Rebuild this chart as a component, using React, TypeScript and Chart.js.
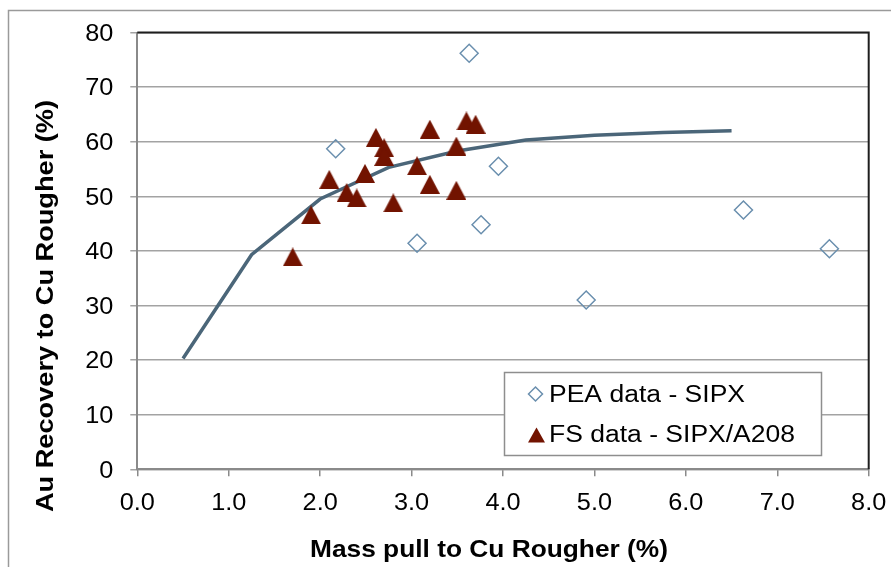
import React, { useEffect, useRef } from 'react';
import { Chart, registerables } from 'chart.js';

Chart.register(...registerables);

// ---- Data ----
const peaX = [2.17, 3.63, 3.06, 3.95, 3.76, 4.91, 6.63, 7.57];
const peaY = [58.7, 76.2, 41.4, 55.5, 44.8, 31.0, 47.5, 40.4];

const fsX = [1.7, 1.9, 2.1, 2.29, 2.4, 2.49, 2.61, 2.7, 2.7, 2.8, 3.06, 3.2, 3.2, 3.49, 3.49, 3.6, 3.7];
const fsY = [38.9, 46.6, 53.1, 50.7, 49.7, 54.2, 60.8, 58.9, 57.3, 48.8, 55.6, 62.3, 52.2, 59.2, 51.1, 63.8, 63.2];

const fitX = [0.5, 1.25, 2.0, 2.75, 3.5, 4.25, 5.0, 5.75, 6.5];
const fitY = [20.3, 39.3, 49.5, 55.3, 58.3, 60.3, 61.2, 61.7, 62.0];

const xTickValues = [0, 1, 2, 3, 4, 5, 6, 7, 8];
const xTickLabels = ['0.0', '1.0', '2.0', '3.0', '4.0', '5.0', '6.0', '7.0', '8.0'];
const yTickValues = [0, 10, 20, 30, 40, 50, 60, 70, 80];
const yTickLabels = ['0', '10', '20', '30', '40', '50', '60', '70', '80'];

const seriesNames = ['PEA data - SIPX', 'FS data - SIPX/A208'];
const xTitle = 'Mass pull to Cu Rougher (%)';
const yTitle = 'Au Recovery to Cu Rougher (%)';

const FONT = '"Liberation Sans", Arial, Helvetica, sans-serif';
const PEA_COLOR = '#6a8fae';
const FS_COLOR = '#721300';
const FIT_COLOR = '#4b6679';
const TEXT_STRETCH = 1.1;

function makeTriangle(w: number, h: number, color: string): HTMLCanvasElement {
  const c = document.createElement('canvas');
  c.width = w;
  c.height = h;
  const g = c.getContext('2d')!;
  g.fillStyle = color;
  g.beginPath();
  g.moveTo(w / 2, 0);
  g.lineTo(w, h);
  g.lineTo(0, h);
  g.closePath();
  g.fill();
  return c;
}

function stretchedText(
  ctx: CanvasRenderingContext2D,
  text: string,
  x: number,
  y: number,
  sx: number,
  align: CanvasTextAlign,
) {
  ctx.save();
  ctx.translate(x, y);
  ctx.scale(sx, 1);
  ctx.textAlign = align;
  ctx.fillText(text, 0, 0);
  ctx.restore();
}

const decorPlugin = {
  id: 'decor',
  beforeDraw(chart: any) {
    const ctx = chart.ctx;
    ctx.save();
    ctx.fillStyle = '#ffffff';
    ctx.fillRect(0, 0, chart.width, chart.height);
    // outer chart border
    ctx.strokeStyle = '#9a9a9a';
    ctx.lineWidth = 1.5;
    ctx.beginPath();
    ctx.moveTo(8.5, chart.height);
    ctx.lineTo(8.5, 10.5);
    ctx.lineTo(chart.width, 10.5);
    ctx.stroke();
    ctx.restore();
  },
  beforeDatasetsDraw(chart: any) {
    const ctx = chart.ctx;
    const a = chart.chartArea;
    ctx.save();
    ctx.strokeStyle = '#1e1e1e';
    ctx.lineWidth = 2;
    ctx.beginPath();
    ctx.moveTo(a.left, a.top);
    ctx.lineTo(a.right, a.top);
    ctx.lineTo(a.right, a.bottom);
    ctx.stroke();
    ctx.restore();
  },
  afterDraw(chart: any) {
    const ctx = chart.ctx;
    const xs = chart.scales.x;
    const ys = chart.scales.y;
    ctx.save();
    ctx.fillStyle = '#000000';
    ctx.textBaseline = 'alphabetic';

    // tick labels, positioned by the chart's scales
    ctx.font = `23px ${FONT}`;
    xTickValues.forEach((v, i) => {
      stretchedText(ctx, xTickLabels[i], xs.getPixelForValue(v), 509.8, TEXT_STRETCH, 'center');
    });
    yTickValues.forEach((v, i) => {
      stretchedText(ctx, yTickLabels[i], 113.3, ys.getPixelForValue(v) + 8.2, TEXT_STRETCH, 'right');
    });

    // x title
    ctx.font = `bold 24px ${FONT}`;
    let w = ctx.measureText(xTitle).width;
    stretchedText(ctx, xTitle, 310, 557.3, 358 / w, 'left');

    // y title
    ctx.font = `bold 23px ${FONT}`;
    w = ctx.measureText(yTitle).width;
    ctx.save();
    ctx.translate(53.3, 512);
    ctx.rotate(-Math.PI / 2);
    ctx.scale(412 / w, 1);
    ctx.textAlign = 'left';
    ctx.fillText(yTitle, 0, 0);
    ctx.restore();

    // legend
    ctx.fillStyle = '#ffffff';
    ctx.fillRect(504.5, 372.5, 317, 83);
    ctx.strokeStyle = '#8e8e8e';
    ctx.lineWidth = 1.5;
    ctx.strokeRect(504.5, 372.5, 317, 83);

    // diamond marker
    ctx.strokeStyle = PEA_COLOR;
    ctx.lineWidth = 1.5;
    ctx.beginPath();
    const dx = 535.5, dy = 394, r = 7;
    ctx.moveTo(dx - r, dy);
    ctx.lineTo(dx, dy - r);
    ctx.lineTo(dx + r, dy);
    ctx.lineTo(dx, dy + r);
    ctx.closePath();
    ctx.stroke();

    // triangle marker
    ctx.fillStyle = FS_COLOR;
    ctx.beginPath();
    ctx.moveTo(536.5, 427.5);
    ctx.lineTo(545, 442.5);
    ctx.lineTo(528, 442.5);
    ctx.closePath();
    ctx.fill();

    ctx.fillStyle = '#000000';
    ctx.font = `23px ${FONT}`;
    w = ctx.measureText(seriesNames[0]).width;
    stretchedText(ctx, seriesNames[0], 549, 401.7, 196 / w, 'left');
    w = ctx.measureText(seriesNames[1]).width;
    stretchedText(ctx, seriesNames[1], 549, 442.3, 246 / w, 'left');
    ctx.restore();
  },
};

export default function App() {
  const ref = useRef<HTMLCanvasElement | null>(null);

  useEffect(() => {
    if (!ref.current) return;
    const tri = makeTriangle(20, 19, FS_COLOR);
    const chart = new Chart(ref.current, {
      type: 'scatter',
      data: {
        datasets: [
          {
            label: seriesNames[1],
            data: fsX.map((x, i) => ({ x, y: fsY[i] })),
            pointStyle: tri as any,
            pointRadius: 10,
            order: 1,
          },
          {
            label: seriesNames[0],
            data: peaX.map((x, i) => ({ x, y: peaY[i] })),
            pointStyle: 'rectRot',
            pointRadius: 9,
            borderColor: PEA_COLOR,
            backgroundColor: 'rgba(255,255,255,0)',
            borderWidth: 1.5,
            order: 2,
          },
          {
            label: 'fit',
            data: fitX.map((x, i) => ({ x, y: fitY[i] })),
            showLine: true,
            borderColor: FIT_COLOR,
            borderWidth: 3.5,
            pointRadius: 0,
            tension: 0,
            order: 3,
          } as any,
        ],
      },
      options: {
        animation: false,
        responsive: false,
        devicePixelRatio: 1,
        layout: { padding: { left: 0, right: 22.3, top: 32.5, bottom: 0 } },
        plugins: {
          legend: { display: false },
          tooltip: { enabled: false },
          title: { display: false },
        },
        scales: {
          x: {
            type: 'linear',
            min: 0,
            max: 8,
            afterFit: (s: any) => {
              s.height = 97.7;
            },
            afterBuildTicks: (s: any) => {
              s.ticks = xTickValues.map((v) => ({ value: v }));
            },
            ticks: { display: false, autoSkip: false },
            grid: {
              display: true,
              drawOnChartArea: false,
              drawTicks: true,
              tickLength: 7,
              color: '#8a8a8a',
              lineWidth: 1.5,
            },
            border: { display: true, color: '#8a8a8a', width: 2 },
          },
          y: {
            type: 'linear',
            min: 0,
            max: 80,
            afterFit: (s: any) => {
              s.width = 137.3;
            },
            afterBuildTicks: (s: any) => {
              s.ticks = yTickValues.map((v) => ({ value: v }));
            },
            ticks: { display: false, autoSkip: false },
            grid: {
              display: true,
              drawOnChartArea: true,
              drawTicks: true,
              tickLength: 7,
              color: '#a3a3a3',
              lineWidth: 1.5,
            },
            border: { display: true, color: '#8a8a8a', width: 2 },
          },
        },
      },
      plugins: [decorPlugin],
    });
    return () => chart.destroy();
  }, []);

  return (
    <div style={{ position: 'absolute', left: 0, top: 0, width: 891, height: 567, background: '#fff' }}>
      <canvas ref={ref} width={891} height={567} style={{ display: 'block', width: 891, height: 567 }} />
    </div>
  );
}
